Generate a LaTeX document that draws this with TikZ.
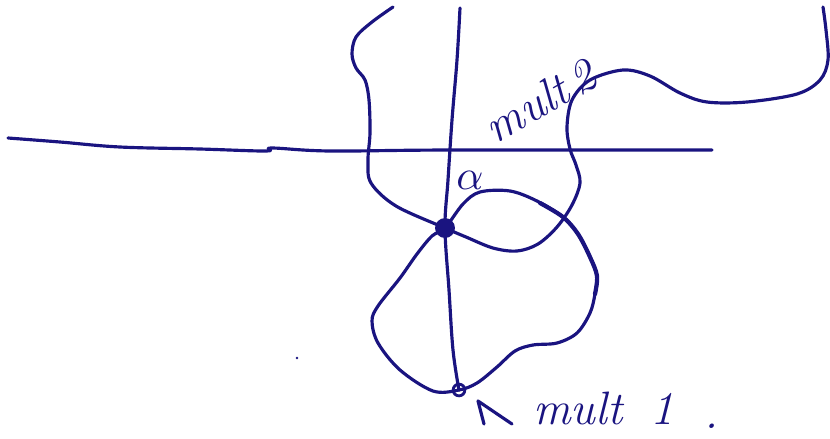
\documentclass[tikz,border=0pt]{standalone}
\usepackage{amsmath,amssymb}
\usepackage{xcolor}
\usetikzlibrary{positioning,calc}
\definecolor{SKink}{HTML}{1A1480}
\tikzset{
  inkline/.style={draw=SKink, line width=2.7pt, line cap=round, line join=round},
  inkthick/.style={draw=SKink, line width=3.6pt, line cap=round},
  inklabel/.style={text=SKink, inner sep=0pt, font=\fontsize{40}{44}\selectfont\itshape},
  blobpt/.style={circle, fill=SKink, minimum size=17pt, inner sep=0pt},
  ringpt/.style={circle, draw=SKink, line width=2.4pt, minimum size=10pt, inner sep=0pt}
}

\begin{document}
\begin{tikzpicture}[x=0.03cm, y=-0.03cm]
\useasboundingbox (0,0) rectangle (830,438);
\node[blobpt] (top) at (445,228) {};
\node[ringpt] (bot) at (459,390) {};
% horizontal and vertical strands
\draw[inkline] plot[smooth, tension=0.6] coordinates {(8,138) (60,142) (120,147) (200,149) (266,151) (272,148) (330,151) (450,150) (712,150)};
\draw[inkline] plot[smooth, tension=0.6] coordinates {(460,8) (457,60) (452,120) (448,180) (top.center) (449,290) (453,350) (bot.center)};
% long snake through the blob
\draw[inkline] plot[smooth, tension=0.55] coordinates {(393,7) (372,22) (356,37) (352,54) (356,68) (365,80) (369,100) (370,133) (368,160) (371,183) (396,206) (top.center) (466,237) (493,248) (517,251) (538,244) (557,227) (572,205) (580,183) (576,165) (570,149) (567,127) (572,100) (590,80) (623,70) (650,76) (680,93) (707,102) (747,102) (797,94) (820,80) (828,60) (826,30) (823,7)};
% loop through both points
\draw[inkline] plot[smooth cycle, tension=0.55] coordinates {(top.center) (463,204) (480,192) (510,191) (537,201) (563,217) (578,234) (590,257) (597,276) (595,294) (590,313) (577,333) (557,343) (533,345) (515,351) (497,367) (477,383) (bot.center) (433,391) (400,370) (378,343) (372,321) (378,306) (400,278) (417,254) (432,236)};
\draw[inkthick] plot[smooth, tension=0.55] coordinates {(540,203) (563,217) (578,234) (590,257) (597,276) (595,294)};
% labels
\node[text=SKink, inner sep=0pt, scale=3.6] (alpha) at (470,180) {$\alpha$};
\node[inklabel, rotate=30] (multtwo) at (540,101) {mult\,2};
\node[inklabel, anchor=base west] (multone) at (533,424) {mult\hspace{0.6em}1};
\node[inklabel, anchor=base] (stop) at (712,428) {.};
\coordinate (tip) at (478,401);
\draw[inkline] (484,424) -- (tip) -- (512,424);
\fill[SKink] (297,358) circle (1.3);
\end{tikzpicture}
\end{document}
